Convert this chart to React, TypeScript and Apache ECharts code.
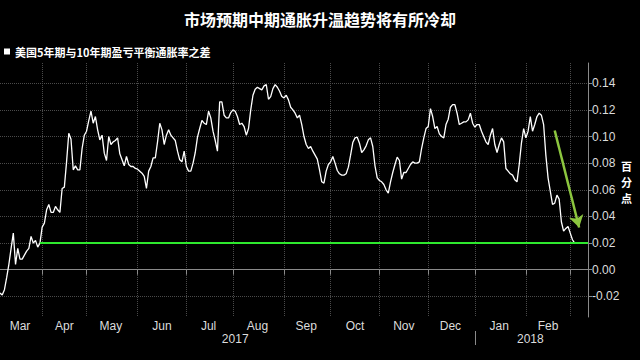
import React, { useEffect, useRef } from "react";
import * as echarts from "echarts";

const titleText = "市场预期中期通胀升温趋势将有所冷却";
const seriesName = "美国5年期与10年期盈亏平衡通胀率之差";
const yAxisName = "百\n分\n点";
const monthLabels = ["Mar", "Apr", "May", "Jun", "Jul", "Aug", "Sep", "Oct", "Nov", "Dec", "Jan", "Feb"];
const yearLabels = ["2017", "2018"];
const yTickValues = [-0.02, 0, 0.02, 0.04, 0.06, 0.08, 0.1, 0.12, 0.14];
const startDate = "2017-03-07";
const endDate = "2018-03-13";
const thresholdValue = 0.02;
const arrowStart = { index: 250, value: 0.1045 };
const arrowEnd = { index: 261, value: 0.0317 };
const thresholdStartIndex = 18;

// Daily (weekday) spread values, percentage points
const spreadValues: number[] = [
  -0.0175, -0.019, -0.015, -0.006, 0.004, 0.016, 0.0275, 0.004, 0.016, 0.008,
  0.008, 0.011, 0.014, 0.016, 0.025, 0.02, 0.022, 0.017, 0.02, 0.032,
  0.035, 0.045, 0.049, 0.043, 0.043, 0.0475, 0.045, 0.043, 0.061, 0.062,
  0.081, 0.1025, 0.098, 0.075, 0.078, 0.075, 0.075, 0.091, 0.101, 0.104,
  0.112, 0.119, 0.11, 0.115, 0.105, 0.0975,
  0.101, 0.0875, 0.082, 0.1, 0.094, 0.096, 0.097, 0.099, 0.087, 0.0825,
  0.078, 0.085, 0.079, 0.0775, 0.0775, 0.076, 0.0755, 0.074, 0.0725, 0.07,
  0.061, 0.074, 0.0775, 0.084, 0.084, 0.096, 0.11, 0.105, 0.094, 0.101,
  0.105, 0.101, 0.099, 0.097, 0.089, 0.0825, 0.081, 0.089, 0.0775, 0.074,
  0.074, 0.08, 0.088,
  0.0995, 0.106, 0.112, 0.11, 0.109, 0.119, 0.114, 0.104, 0.097, 0.089,
  0.126, 0.126, 0.116, 0.114, 0.114, 0.118, 0.12, 0.119, 0.115, 0.109,
  0.11, 0.1075, 0.101, 0.106, 0.12, 0.131, 0.1355, 0.137, 0.136, 0.135,
  0.138, 0.139, 0.128, 0.13, 0.136, 0.139, 0.137, 0.134, 0.13, 0.129,
  0.131, 0.1275,
  0.122, 0.12, 0.1175, 0.114, 0.116, 0.109, 0.1, 0.094, 0.091, 0.0925,
  0.089, 0.086, 0.083, 0.075, 0.066, 0.065, 0.074, 0.079, 0.081, 0.085,
  0.08, 0.0745, 0.072, 0.071, 0.071, 0.072, 0.077, 0.086, 0.0955, 0.099,
  0.0995, 0.095, 0.088, 0.09, 0.093, 0.0975, 0.099, 0.0925, 0.078, 0.069,
  0.067, 0.066, 0.064,
  0.06, 0.0575, 0.066, 0.073, 0.079, 0.0845, 0.082, 0.068, 0.073, 0.073,
  0.076, 0.079, 0.081, 0.08, 0.08, 0.081, 0.091, 0.099, 0.106, 0.1075,
  0.121, 0.115, 0.106, 0.1075, 0.102, 0.1, 0.099, 0.109, 0.113, 0.122,
  0.124, 0.124, 0.1175, 0.109, 0.11, 0.111, 0.111, 0.1125, 0.1175, 0.11,
  0.107, 0.109, 0.109,
  0.104, 0.1, 0.096, 0.094, 0.101, 0.106, 0.094, 0.088, 0.094, 0.099,
  0.096, 0.076, 0.074, 0.072, 0.071, 0.0675, 0.066, 0.079, 0.095, 0.106,
  0.099, 0.104, 0.115, 0.104, 0.109, 0.115, 0.1175, 0.116, 0.109, 0.086,
  0.069, 0.059, 0.049, 0.05, 0.056, 0.053, 0.036, 0.029, 0.031, 0.0325,
  0.0275, 0.0225, 0.02,
];

// weekday categories
const dates: string[] = [];
{
  const end = new Date(endDate + "T00:00:00Z").getTime();
  const d = new Date(startDate + "T00:00:00Z");
  while (d.getTime() <= end) {
    const wd = d.getUTCDay();
    if (wd !== 0 && wd !== 6) dates.push(d.toISOString().slice(0, 10));
    d.setUTCDate(d.getUTCDate() + 1);
  }
}

const monthStarts = new Set<number>();
const yearStarts = new Set<number>();
const monthRanges: [number, number][] = [];
const yearRanges: [number, number][] = [];
{
  let ms = 0;
  let ys = 0;
  for (let i = 1; i <= dates.length; i++) {
    const prev = dates[i - 1];
    const cur = dates[i];
    if (!cur || cur.slice(0, 7) !== prev.slice(0, 7)) {
      monthRanges.push([ms, i - 1]);
      ms = i;
      if (cur) monthStarts.add(i);
    }
    if (!cur || cur.slice(0, 4) !== prev.slice(0, 4)) {
      yearRanges.push([ys, i - 1]);
      ys = i;
      if (cur) yearStarts.add(i);
    }
  }
}
const monthLabelAt = new Map<number, string>();
monthLabels.forEach((lab, j) => {
  const r = monthRanges[j];
  if (r) monthLabelAt.set(Math.round((r[0] + r[1]) / 2), lab);
});
const yearLabelAt = new Map<number, string>();
yearLabels.forEach((lab, j) => {
  const r = yearRanges[j];
  if (r) yearLabelAt.set(Math.floor((r[0] + r[1]) / 2), lab);
});

const gridColor = "#4a4a4a";
const axisColor = "#8a8a8a";
const labelColor = "#dcdcdc";

export default function App() {
  const ref = useRef<HTMLDivElement>(null);
  useEffect(() => {
    if (!ref.current) return;
    const chart = echarts.init(ref.current, undefined, { renderer: "svg" });
    chart.setOption({
      animation: false,
      backgroundColor: "#000",
      title: {
        text: titleText,
        left: "center",
        top: 6,
        textStyle: { color: "#fff", fontSize: 16, fontWeight: "bold", fontFamily: "Noto Sans CJK SC" },
      },
      legend: {
        data: [seriesName],
        left: 4,
        top: 46,
        padding: 0,
        icon: "rect",
        itemWidth: 6,
        itemHeight: 6,
        itemGap: 5,
        textStyle: { color: "#fff", fontSize: 11, fontWeight: "bold", fontFamily: "Noto Sans CJK SC" },
      },
      graphic: [
        {
          type: "text",
          left: 621,
          top: 158,
          silent: true,
          style: {
            text: yAxisName,
            fill: "#fff",
            font: "bold 11px 'Noto Sans CJK SC'",
            lineHeight: 16,
            align: "left",
          },
        },
      ],
      grid: { left: 0, right: 52, top: 63, bottom: 43 },
      xAxis: [
        {
          type: "category",
          data: dates,
          boundaryGap: false,
          axisLine: { show: true, lineStyle: { color: axisColor, width: 1 } },
          axisTick: {
            show: true,
            length: 5,
            interval: (i: number) => monthStarts.has(i),
            lineStyle: { color: axisColor },
          },
          axisLabel: {
            interval: (i: number) => monthLabelAt.has(i),
            formatter: (_v: string, i: number) => monthLabelAt.get(i) || "",
            color: labelColor,
            fontSize: 12,
            margin: 3,
            fontFamily: "Liberation Sans",
          },
          splitLine: {
            show: true,
            interval: (i: number) => monthStarts.has(i),
            lineStyle: { color: gridColor, type: "dotted", width: 1 },
          },
        },
        {
          type: "category",
          data: dates,
          boundaryGap: false,
          position: "bottom",
          offset: 14,
          axisLine: { show: false },
          axisTick: {
            show: true,
            length: 14,
            interval: (i: number) => yearStarts.has(i),
            lineStyle: { color: axisColor },
          },
          axisLabel: {
            interval: (i: number) => yearLabelAt.has(i),
            formatter: (_v: string, i: number) => yearLabelAt.get(i) || "",
            color: labelColor,
            fontSize: 12,
            margin: 2,
            fontFamily: "Liberation Sans",
          },
          splitLine: { show: false },
        },
      ],
      yAxis: {
        type: "value",
        position: "right",
        min: -0.0355,
        max: 0.1552,
        axisLine: { show: true, lineStyle: { color: axisColor } },
        axisTick: { show: true, length: 4, customValues: yTickValues, lineStyle: { color: axisColor } },
        axisLabel: {
          customValues: yTickValues,
          formatter: (v: number) => v.toFixed(2),
          color: labelColor,
          fontSize: 12,
          margin: 4,
          fontFamily: "Liberation Sans",
        },
        splitLine: { show: true, lineStyle: { color: gridColor, type: "dotted", width: 1 } },
      },
      series: [
        {
          name: seriesName,
          type: "line",
          data: spreadValues,
          showSymbol: false,
          symbol: "none",
          itemStyle: { color: "#fff" },
          lineStyle: { color: "#fff", width: 1.3 },
          markLine: {
            silent: true,
            symbol: ["none", "none"],
            label: { show: false },
            emphasis: { disabled: true },
            data: [
              [
                { coord: [dates[thresholdStartIndex], thresholdValue], lineStyle: { color: "#2ee82e", width: 2, type: "solid" } },
                { coord: [dates[dates.length - 1], thresholdValue] },
              ],
              [
                {
                  coord: [dates[arrowStart.index], arrowStart.value],
                  symbol: "none",
                  lineStyle: { color: "#8cc63f", width: 2.5, type: "solid" },
                },
                { coord: [dates[arrowEnd.index], arrowEnd.value], symbol: "arrow", symbolSize: [11, 12] },
              ],
            ],
          },
        },
      ],
    });
    return () => chart.dispose();
  }, []);
  return <div ref={ref} style={{ width: 640, height: 360, position: "fixed", left: 0, top: 0 }} />;
}
